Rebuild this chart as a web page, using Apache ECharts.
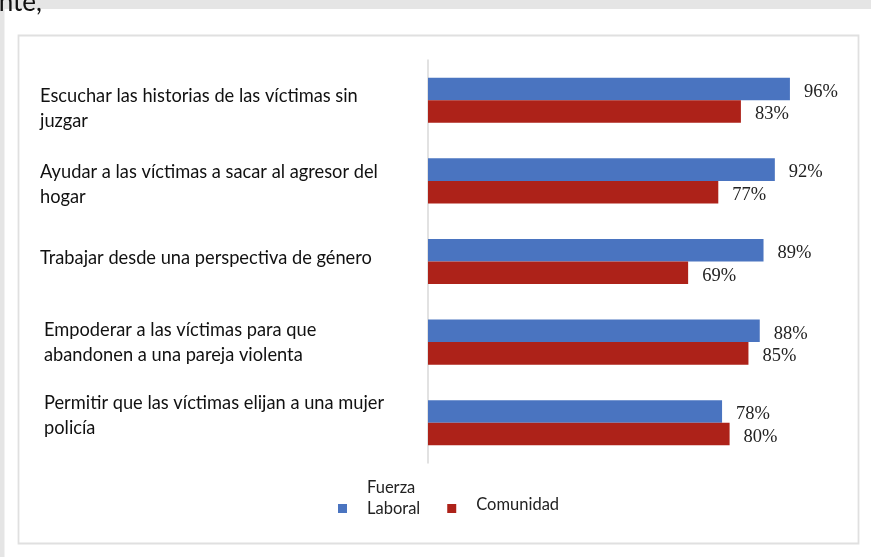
<!DOCTYPE html>
<html>
<head>
<meta charset="utf-8">
<script src="https://cdn.jsdelivr.net/npm/echarts@6/dist/echarts.min.js"></script>
<style>
html,body{margin:0;padding:0;background:#fff;}
#chart{width:871px;height:557px;}
</style>
</head>
<body>
<div id="chart"></div>
<script>
// ---- data ----
var categories = [
  'Escuchar las historias de las víctimas sin\njuzgar',
  'Ayudar a las víctimas a sacar al agresor del\nhogar',
  'Trabajar desde una perspectiva de género',
  'Empoderar a las víctimas para que\nabandonen a una pareja violenta',
  'Permitir que las víctimas elijan a una mujer\npolicía'
];
var seriesNames = ['Fuerza Laboral', 'Comunidad'];
var fuerzaLaboral = [96, 92, 89, 88, 78];
var comunidad = [83, 77, 69, 85, 80];

// ---- label layout tweaks (vertical shift in px, extra left indent in px) ----
var labelShift = [8, 4, -3, 1, -7];
var labelIndent = [0, 0, 0, 4, 4];

var LH = 25;
var labelFont = { fontFamily: 'Lato', fontSize: 18.25, color: '#111' };
var rich = {};
categories.forEach(function (c, idx) {
  var lines = c.split('\n');
  var d = labelShift[idx];
  lines.forEach(function (ln, i) {
    var st = { fontFamily: labelFont.fontFamily, fontSize: labelFont.fontSize, color: labelFont.color, lineHeight: LH, height: LH };
    if (d > 0 && i === 0) { st.lineHeight = LH + 2 * d; st.verticalAlign = 'bottom'; }
    if (d < 0 && i === lines.length - 1) { st.lineHeight = LH - 2 * d; st.verticalAlign = 'top'; }
    rich['s' + idx + '_' + i] = st;
  });
});

var chart = echarts.init(document.getElementById('chart'));
var valueLabel = {
  show: true,
  position: 'right',
  distance: 14,
  offset: [0, 3],
  formatter: '{c}%',
  fontFamily: 'Liberation Serif',
  fontSize: 18.5,
  color: '#222'
};
var legendFont = { fontFamily: 'Lato', fontSize: 16.5, color: '#222' };
var option = {
  backgroundColor: '#ffffff',
  animation: false,
  graphic: [
    { type: 'rect', z: -10, shape: { x: 0, y: 0, width: 871, height: 9 }, style: { fill: '#e5e5e5' } },
    { type: 'rect', z: -10, shape: { x: 0, y: 0, width: 4.5, height: 557 }, style: { fill: '#e5e5e5' } },
    { type: 'text', z: -9, x: -15, y: 16, style: { text: 'ente,', font: '26px Lato', fill: '#111', textVerticalAlign: 'bottom' } },
    { type: 'rect', z: -10, shape: { x: 18.5, y: 35.5, width: 840, height: 508 }, style: { fill: '#fff', stroke: '#e0e0e0', lineWidth: 1.8 } }
  ],
  grid: { left: 428, top: 60, width: 377, height: 403, containLabel: false, outerBoundsMode: 'none' },
  xAxis: {
    type: 'value', min: 0, max: 100, show: false
  },
  yAxis: {
    type: 'category',
    inverse: true,
    data: categories.map(function (c, i) {
      return { value: c, textStyle: { padding: [0, 0, 0, labelIndent[i]], align: 'left' } };
    }),
    axisLine: { lineStyle: { color: '#d9d9d9', width: 1.5 } },
    axisTick: { show: false },
    axisLabel: {
      align: 'left',
      margin: 388,
      fontFamily: labelFont.fontFamily,
      fontSize: labelFont.fontSize,
      lineHeight: LH,
      color: labelFont.color,
      formatter: function (value, index) {
        return value.split('\n').map(function (ln, i) {
          return '{s' + index + '_' + i + '|' + ln + '}';
        }).join('\n');
      },
      rich: rich
    }
  },
  legend: {
    data: [
      { name: seriesNames[0], textStyle: { padding: [0, 0, 0, 15] } },
      { name: seriesNames[1], textStyle: { padding: [0, 0, 0, 15] } }
    ],
    left: 338,
    top: 477,
    padding: 0,
    icon: 'rect',
    itemWidth: 9,
    itemHeight: 9,
    itemGap: 27,
    formatter: function (n) {
      return n === 'Fuerza Laboral' ? '{a|Fuerza}\n{b|Laboral}' : '{c|' + n + '}';
    },
    textStyle: {
      fontFamily: legendFont.fontFamily, fontSize: legendFont.fontSize, color: legendFont.color,
      rich: {
        a: { fontFamily: legendFont.fontFamily, fontSize: legendFont.fontSize, color: legendFont.color, lineHeight: 21, height: 21 },
        b: { fontFamily: legendFont.fontFamily, fontSize: legendFont.fontSize, color: legendFont.color, lineHeight: 42, height: 21, verticalAlign: 'top' },
        c: { fontFamily: legendFont.fontFamily, fontSize: legendFont.fontSize, color: legendFont.color, lineHeight: 29, height: 21, verticalAlign: 'top' }
      }
    }
  },
  series: [
    {
      name: seriesNames[0], type: 'bar', data: fuerzaLaboral,
      barCategoryGap: '44%', barGap: '0%',
      itemStyle: { color: '#4a74c0' },
      label: valueLabel
    },
    {
      name: seriesNames[1], type: 'bar', data: comunidad,
      barCategoryGap: '44%', barGap: '0%',
      itemStyle: { color: '#ad2219' },
      label: valueLabel
    }
  ]
};
chart.setOption(option);
</script>
</body>
</html>
